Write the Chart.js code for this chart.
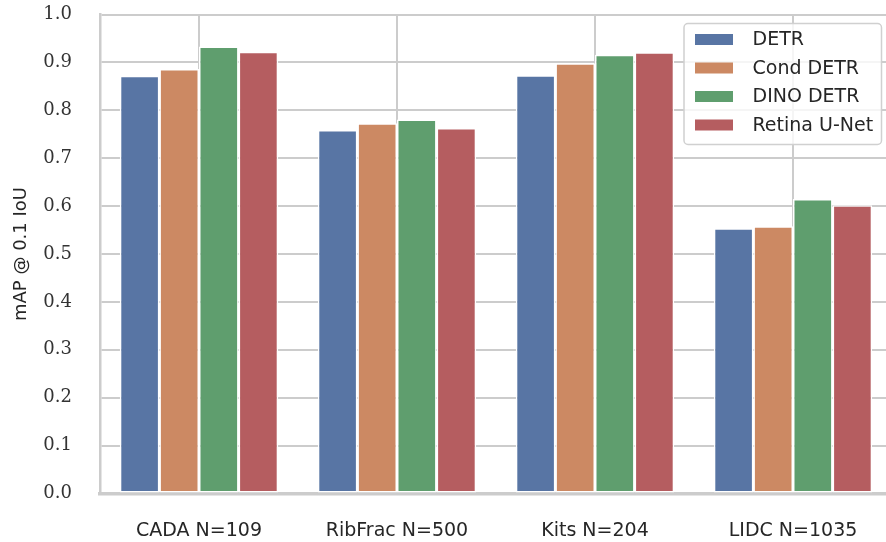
<!DOCTYPE html>
<html lang="en">
<head>
    <meta charset="UTF-8">
    <title>mAP @ 0.1 IoU per dataset</title>
    <script src="https://cdn.jsdelivr.net/npm/chart.js"></script>
    <style>
        html, body { margin: 0; padding: 0; background: #fff; overflow: hidden; }
        canvas { display: block; }
    </style>
</head>
<body>
    <canvas id="mapChart" width="892" height="542"></canvas>

    <script>
        const datasets = ["CADA N=109", "RibFrac N=500", "Kits N=204", "LIDC N=1035"];
        const models = ["DETR", "Cond DETR", "DINO DETR", "Retina U-Net"];
        const detr = [0.872, 0.759, 0.873, 0.554];
        const condDetr = [0.886, 0.773, 0.898, 0.558];
        const dinoDetr = [0.933, 0.781, 0.916, 0.615];
        const retinaUnet = [0.922, 0.763, 0.921, 0.602];
        const colors = ["#5875a4", "#cc8963", "#5f9e6e", "#b55d60"];
        const yTicks = [0.0, 0.1, 0.2, 0.3, 0.4, 0.5, 0.6, 0.7, 0.8, 0.9, 1.0];

        const gridColor = "#cccccc";
        const textColor = "#262626";

        // legend box drawn by hand, matplotlib style (upper right, framed)
        const boxLegend = {
            id: "boxLegend",
            afterDraw(chart) {
                const ctx = chart.ctx;
                const x = 684, y = 23.5, w = 197.5, h = 121;
                ctx.save();
                ctx.beginPath();
                ctx.roundRect(x, y, w, h, 4);
                ctx.fillStyle = "rgba(255,255,255,0.8)";
                ctx.fill();
                ctx.lineWidth = 1.5;
                ctx.strokeStyle = "#d0d0d0";
                ctx.stroke();

                ctx.font = "19px 'DejaVu Sans'";
                ctx.textBaseline = "middle";
                ctx.textAlign = "left";
                const rows = [39.5, 68, 96.5, 125];
                chart.data.datasets.forEach((ds, i) => {
                    ctx.fillStyle = ds.backgroundColor;
                    ctx.fillRect(695, rows[i] - 5.5, 38, 11);
                    ctx.fillStyle = textColor;
                    ctx.fillText(ds.label, 752.5, rows[i] + 1);
                });
                ctx.restore();
            }
        };

        const series = [detr, condDetr, dinoDetr, retinaUnet];

        new Chart(document.getElementById("mapChart"), {
            type: "bar",
            data: {
                labels: datasets,
                datasets: models.map((m, i) => ({
                    label: m,
                    data: series[i],
                    backgroundColor: colors[i],
                    borderColor: "#ffffff",
                    borderWidth: 1.5,
                    borderSkipped: false,
                    categoryPercentage: 0.8,
                    barPercentage: 1.0
                }))
            },
            options: {
                responsive: false,
                animation: false,
                layout: { padding: { top: 14.5, right: 0, left: 0, bottom: 0 } },
                plugins: {
                    legend: { display: false },
                    tooltip: { enabled: false }
                },
                scales: {
                    x: {
                        grid: { color: gridColor, lineWidth: 2, offset: false, drawTicks: false },
                        border: { color: gridColor, width: 3.5 },
                        ticks: {
                            color: textColor,
                            padding: 26,
                            font: { family: "'DejaVu Sans'", size: 19 }
                        },
                        afterFit(scale) {
                            scale.height = 48.5;
                            scale.paddingLeft = 0;
                            scale.paddingRight = 0;
                        }
                    },
                    y: {
                        min: 0,
                        max: 1,
                        afterBuildTicks(scale) { scale.ticks = yTicks.map(v => ({ value: v })); },
                        grid: { color: gridColor, lineWidth: 2, drawTicks: false },
                        border: { color: gridColor, width: 2.5 },
                        ticks: {
                            color: "#333333",
                            padding: 28,
                            font: { family: "'DejaVu Serif'", size: 18 },
                            callback: v => v.toFixed(1)
                        },
                        title: {
                            display: true,
                            text: "mAP @ 0.1 IoU",
                            color: textColor,
                            padding: { top: 11, bottom: 0 },
                            font: { family: "'DejaVu Sans'", size: 18 }
                        },
                        afterFit(scale) {
                            scale.width = 100;
                            scale.paddingTop = 0;
                            scale.paddingBottom = 0;
                        }
                    }
                }
            },
            plugins: [boxLegend]
        });
    </script>
</body>
</html>
